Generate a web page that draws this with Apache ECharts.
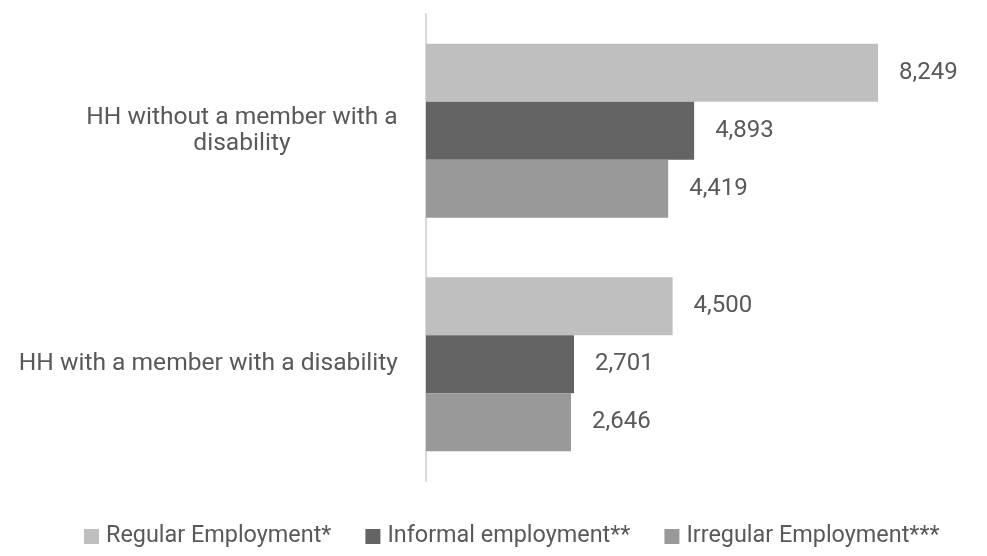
<!DOCTYPE html>
<html>
<head>
<meta charset="utf-8">
<script src="https://cdn.jsdelivr.net/npm/echarts@6/dist/echarts.min.js"></script>
<style>html,body{margin:0;padding:0;background:#fff;}#c{width:987px;height:556px;}</style>
</head>
<body>
<div id="c"></div>
<script>
const categories = ["HH without a member with a\ndisability", "HH with a member with a disability"];
const seriesNames = ["Regular Employment*", "Informal employment**", "Irregular Employment***"];
const regular = [8249, 4500];
const informal = [4893, 2701];
const irregular = [4419, 2646];
const colors = ["#bfbfbf", "#646464", "#999999"];

const FONT = "Roboto, 'Noto Sans', sans-serif";
const TXT = "#595959";
const chart = echarts.init(document.getElementById('c'));
const values = [regular, informal, irregular];
chart.setOption({
  animation: false,
  textStyle: { fontFamily: FONT },
  grid: { left: 426, right: 13, top: 14, bottom: 75, containLabel: false },
  legend: {
    data: seriesNames,
    left: 79, top: 520,
    icon: 'rect', itemWidth: 15, itemHeight: 15, itemGap: 34,
    textStyle: { fontFamily: FONT, fontSize: 23.4, color: TXT, padding: [0, 0, 0, 2] }
  },
  xAxis: {
    type: 'value', min: 0, max: 10000, show: false
  },
  yAxis: {
    type: 'category', data: categories, inverse: true,
    axisLine: { show: true, lineStyle: { color: '#d9d9d9', width: 2 } },
    axisTick: { show: false },
    axisLabel: {
      margin: 28, fontSize: 24.6, color: TXT, fontFamily: FONT, lineHeight: 26,
      formatter: function (v) {
        if (v.indexOf('\n') >= 0) {
          return v.split('\n').map(s => '{c|' + s + '}').join('\n');
        }
        return v;
      },
      rich: { c: { width: 312, align: 'center', fontSize: 24.6, color: TXT, fontFamily: FONT, lineHeight: 26 } }
    }
  },
  series: seriesNames.map((n, i) => ({
    name: n, type: 'bar', data: values[i], barWidth: 58, barGap: '0%',
    itemStyle: { color: colors[i] },
    label: {
      show: true, position: 'right', distance: 21, fontSize: 24, color: TXT, fontFamily: FONT,
      formatter: p => p.value.toLocaleString('en-US')
    }
  }))
});
</script>
</body>
</html>
